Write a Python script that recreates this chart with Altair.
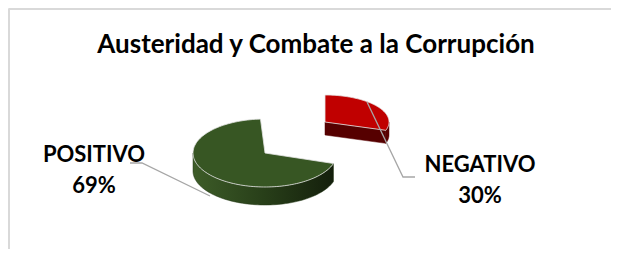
import numpy as np
import pandas as pd
import altair as alt

# ---------------- data ----------------
categories = ["NEGATIVO", "POSITIVO"]
values = [30, 69]            # percent of responses
total = 100
title_text = "Austeridad y Combate a la Corrupción"

# ---------------- layout / style (page pixel coordinates) ----------------
W, H = 603, 241
slice_geom = {
    "NEGATIVO": dict(cx=325, cy=122, rx=64, ry=27, depth=13),
    "POSITIVO": dict(cx=265, cy=153, rx=72, ry=34, depth=18),
}
top_color = {"NEGATIVO": "#C00000", "POSITIVO": "#375623"}
cut_color = {"NEGATIVO": "#560000", "POSITIVO": "#223615"}
wall_fill = {
    "NEGATIVO": "#5a0000",
    "POSITIVO": alt.Gradient(
        gradient="linear", x1=0, x2=1, y1=0, y2=0,
        stops=[alt.GradientStop(color="#3d5c28", offset=0),
               alt.GradientStop(color="#283f19", offset=0.5),
               alt.GradientStop(color="#141f0c", offset=1)]),
}
label_pos = {  # name baseline, percent baseline
    "POSITIVO": dict(x=94, y=162, y2=193),
    "NEGATIVO": dict(x=480, y=172, y2=203),
}
leader_pts = {
    "POSITIVO": [(130, 163), (142, 163), (210, 196)],
    "NEGATIVO": [(367, 102), (403, 177), (415, 177)],
}
FONT = "Lato"
LABEL_SIZE = 22
TITLE_SIZE = 26

# ---------------- geometry table built from the values ----------------
def rim(g, a, drop=0.0):
    return (g["cx"] + g["rx"] * np.sin(a), g["cy"] - g["ry"] * np.cos(a) + drop)

rows = []
def add(cat, part, pts):
    for i, (x, y) in enumerate(pts):
        rows.append(dict(cat=cat, part=part, i=i, x=float(x), y=float(y)))

start = 0
for cat, v in zip(categories, values):
    a0 = 2 * np.pi * start / total
    a1 = 2 * np.pi * (start + v) / total
    start += v
    g = slice_geom[cat]
    d = g["depth"]
    arc = np.linspace(a0, a1, 120)
    add(cat, "top", [(g["cx"], g["cy"])] + [rim(g, a) for a in arc])
    lo, hi = max(a0, np.pi / 2), min(a1, 3 * np.pi / 2)
    if hi > lo:
        warc = np.linspace(lo, hi, 80)
        add(cat, "wall", [rim(g, a) for a in warc] + [rim(g, a, d) for a in warc[::-1]])
    if np.sin(a1) > 1e-6:
        r = rim(g, a1)
        add(cat, "cut", [(g["cx"], g["cy"]), r, (r[0], r[1] + d), (g["cx"], g["cy"] + d)])
    if np.sin(a0) < -1e-6:
        r = rim(g, a0)
        add(cat, "cut", [(g["cx"], g["cy"]), r, (r[0], r[1] + d), (g["cx"], g["cy"] + d)])

geo = pd.DataFrame(rows)

lead_rows = []
for cat, pts in leader_pts.items():
    for i, (x, y) in enumerate(pts):
        lead_rows.append(dict(cat=cat, i=i, x=x, y=y))
leaders = pd.DataFrame(lead_rows)

labels = pd.DataFrame({
    "cat": categories,
    "pct": [f"{v}%" for v in values],
    "x": [label_pos[c]["x"] for c in categories],
    "y": [label_pos[c]["y"] for c in categories],
    "y2": [label_pos[c]["y2"] for c in categories],
})
title_df = pd.DataFrame({"t": [title_text], "x": [316], "y": [53]})

xs = alt.Scale(domain=[8, 8 + W], range=[0, W], nice=False, zero=False)
ys = alt.Scale(domain=[8, 8 + H], range=[0, H], nice=False, zero=False)
X = lambda f="x": alt.X(f"{f}:Q", scale=xs, axis=None)
Y = lambda f="y": alt.Y(f"{f}:Q", scale=ys, axis=None)

layers = []
for cat in categories:
    for part in ["wall", "cut"]:
        sub = geo[(geo.cat == cat) & (geo.part == part)]
        if len(sub) == 0:
            continue
        fill = wall_fill[cat] if part == "wall" else cut_color[cat]
        layers.append(
            alt.Chart(sub).mark_line(interpolate="linear-closed", fill=fill,
                                     stroke=cut_color[cat], strokeWidth=0.5)
            .encode(x=X(), y=Y(), order="i:Q"))
    sub = geo[(geo.cat == cat) & (geo.part == "top")]
    layers.append(
        alt.Chart(sub).mark_line(interpolate="linear-closed", fill=top_color[cat],
                                 stroke="#e6e6e6", strokeWidth=0.8)
        .encode(x=X(), y=Y(), order="i:Q"))

lead = alt.Chart(leaders).mark_line(stroke="#a6a6a6", strokeWidth=1.3).encode(
    x=X(), y=Y(), order="i:Q", detail="cat:N")

txt = dict(font=FONT, fontWeight="bold", color="#000000", align="center", baseline="alphabetic")
names = alt.Chart(labels).mark_text(fontSize=LABEL_SIZE, **txt).encode(
    x=X(), y=Y(), text="cat:N")
pcts = alt.Chart(labels).mark_text(fontSize=LABEL_SIZE, **txt).encode(
    x=X(), y=Y("y2"), text="pct:N")
title = alt.Chart(title_df).mark_text(fontSize=TITLE_SIZE, **txt).encode(
    x=X(), y=Y(), text="t:N")

border_top = alt.Chart(title_df).mark_rule(color="#d9d9d9", strokeWidth=2).encode(
    x=alt.value(1), x2=alt.value(W), y=alt.value(1))
border_left = alt.Chart(title_df).mark_rule(color="#d9d9d9", strokeWidth=2).encode(
    x=alt.value(1), y=alt.value(1), y2=alt.value(H))

chart = alt.layer(border_top, border_left, *layers, lead, names, pcts, title).properties(
    width=W, height=H, padding=0, autosize=alt.AutoSizeParams(type="none")
).configure_view(stroke=None).configure(background="#ffffff")

chart.save("out.html", embed_options={"renderer": "svg", "actions": False})
